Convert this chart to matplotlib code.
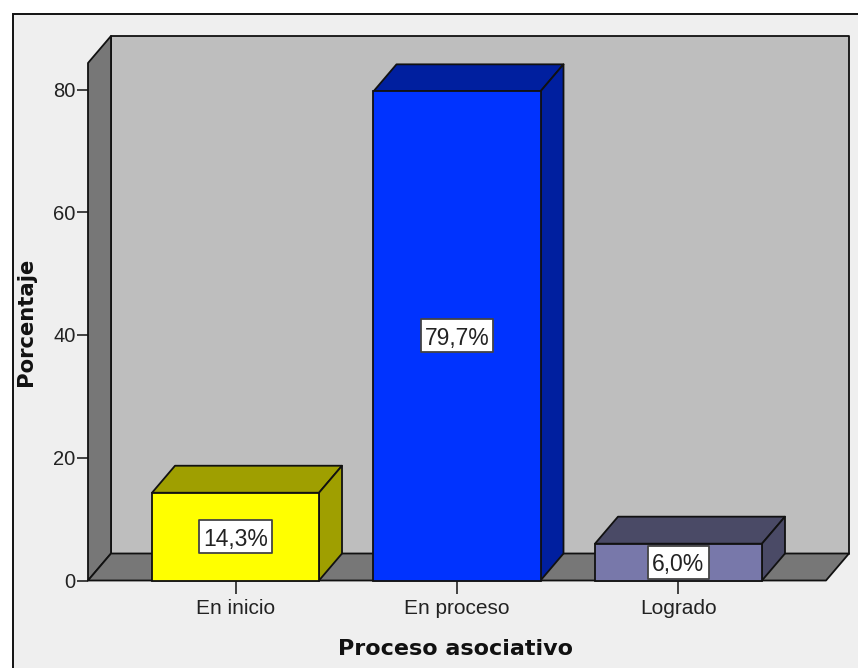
"""
Proceso asociativo: 3D style bar chart drawn on plain 2D axes
"""
import matplotlib
matplotlib.use("Agg")
import matplotlib.pyplot as plt
from matplotlib.patches import Polygon, Rectangle
from matplotlib.transforms import IdentityTransform

categories = ["En inicio", "En proceso", "Logrado"]
values = [14.3, 79.7, 6.0]
value_labels = ["14,3%", "79,7%", "6,0%"]
y_ticks = [0, 20, 40, 60, 80]

front_colors = ["#FFFF00", "#0033FF", "#7878AA"]
side_colors = ["#9F9F00", "#001F9F", "#4A4A66"]

W, H = 858, 668
DX, DY = 23, 27  # depth of the 3D box in pixels
EDGE = "#111111"

plt.rcParams["font.family"] = ["Liberation Sans", "DejaVu Sans"]

fig = plt.figure(figsize=(W / 100, H / 100), dpi=100, facecolor="white")

# panel background with its frame, open at the bottom and right edges
fig.add_artist(Rectangle((12.5 / W, -0.01), 1, (H - 14.5) / H + 0.01,
                         transform=fig.transFigure, facecolor="#EFEFEF",
                         edgecolor="#111111", linewidth=1.4, zorder=-5))

ax = fig.add_axes([88 / W, (H - 580.5) / H, 738 / W, 517.5 / H])
ax.set_xlim(-0.666, 2.666)
ax.set_ylim(0, 517.5 / 6.1375)
ax.patch.set_visible(False)
for s in ax.spines.values():
    s.set_visible(False)
fig.canvas.draw()


def pt(x, y, depth=0):
    px, py = ax.transData.transform((x, y))
    return (px + depth * DX, py + depth * DY)


def face(points, color, z, edge=EDGE):
    ax.add_patch(Polygon(points, closed=True, transform=IdentityTransform(), facecolor=color,
                         edgecolor=edge, linewidth=1.3, joinstyle="round",
                         zorder=z, clip_on=False))


x0, x1 = ax.get_xlim()
y0, y1 = ax.get_ylim()
top = y1

# walls and floor
face([pt(x0, y0, 1), pt(x1, y0, 1), pt(x1, top, 1), pt(x0, top, 1)], "#BEBEBE", 1)
face([pt(x0, y0), pt(x0, top), pt(x0, top, 1), pt(x0, y0, 1)], "#777777", 2)
face([pt(x0, y0), pt(x1, y0), pt(x1, y0, 1), pt(x0, y0, 1)], "#777777", 2)

# bars
bar_w = 0.754
renderer = fig.canvas.get_renderer()
for i, v in enumerate(values):
    a, b = i - bar_w / 2, i + bar_w / 2
    face([pt(a, v), pt(b, v), pt(b, v, 1), pt(a, v, 1)], side_colors[i], 3)
    face([pt(b, 0), pt(b, v), pt(b, v, 1), pt(b, 0, 1)], side_colors[i], 3)
    ax.bar(i, v, width=bar_w, color=front_colors[i], edgecolor=EDGE, linewidth=1.3,
           zorder=4, clip_on=False)
    txt = ax.text(i, v / 2, value_labels[i], ha="center", va="center_baseline", fontsize=16.5,
                  color="#222222", zorder=6)
    # label box is taller than the text, as in the original
    half_w = txt.get_window_extent(renderer).width / 2 + 4
    cx, cy = pt(i, v / 2)
    face([(cx - half_w, cy - 16.5), (cx + half_w, cy - 16.5),
          (cx + half_w, cy + 16.5), (cx - half_w, cy + 16.5)], "white", 5, edge="#444444")

ax.set_xticks(range(len(categories)))
ax.set_xticklabels(categories, fontsize=15, color="#222222")
ax.set_yticks(y_ticks)
ax.set_yticklabels([str(t) for t in y_ticks], fontsize=14.5, color="#222222")
ax.tick_params(axis="x", length=9, width=1.3, color="#333333", pad=4)
ax.tick_params(axis="y", length=8, width=1.3, color="#333333", pad=1)

fig.text(456 / W, 1 - 649 / H, "Proceso asociativo", ha="center", va="center",
         fontsize=16, fontweight="bold", color="#111111", family="DejaVu Sans")
fig.text(26 / W, 1 - 322 / H, "Porcentaje", ha="center", va="center", rotation=90,
         fontsize=15.2, fontweight="bold", color="#111111", family="DejaVu Sans")

fig.savefig("out.png", dpi=100, facecolor="white")
